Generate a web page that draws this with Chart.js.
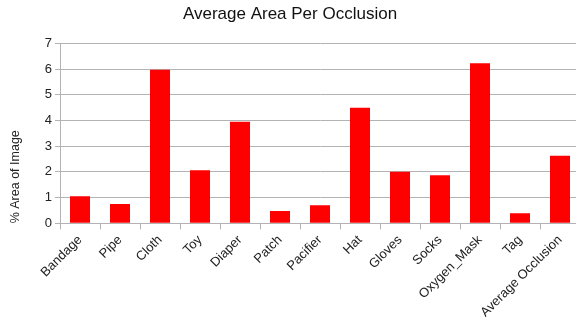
<!DOCTYPE html>
<html><head><meta charset="utf-8">
<script src="https://cdn.jsdelivr.net/npm/chart.js@4/dist/chart.umd.min.js"></script>
<style>html,body{margin:0;padding:0;overflow:hidden;background:#fff;width:576px;height:320px}
#wrap{width:580px;height:320px;position:relative}</style>
</head><body><div id="wrap"><canvas id="c"></canvas></div>
<script>
const categories = ["Bandage","Pipe","Cloth","Toy","Diaper","Patch","Pacifier","Hat","Gloves","Socks","Oxygen_Mask","Tag","Average Occlusion"];
const values = [1.05,0.75,5.97,2.06,3.95,0.48,0.70,4.50,2.01,1.87,6.23,0.39,2.63];
const yTicks = [0,1,2,3,4,5,6,7];
const titleText = "Average Area Per Occlusion";
const yTitle = "% Area of Image";

Chart.defaults.font.family = "'Liberation Sans', Arial, sans-serif";
Chart.defaults.color = "#222";
new Chart(document.getElementById('c'), {
  type: 'bar',
  data: { labels: categories, datasets: [{ data: values, backgroundColor: '#ff0000', borderColor: '#ff0000', borderWidth: 0, categoryPercentage: 1, barPercentage: 0.5 }] },
  options: {
    responsive: true, maintainAspectRatio: false, animation: false,
    layout: { padding: { left: 0, right: 0, top: 0, bottom: 0 } },
    plugins: {
      legend: { display: false }, tooltip: { enabled: false },
      title: { display: true, text: titleText, font: { size: 17, weight: 'normal' }, color: '#111', padding: { top: 4, bottom: 19 } }
    },
    scales: {
      x: {
        grid: { display: true, drawOnChartArea: false, drawTicks: true, tickLength: 6, color: '#b3b3b3', offset: true },
        border: { color: '#b3b3b3' },
        ticks: { maxRotation: 45, minRotation: 45, font: { size: 13 }, color: '#222', padding: 3, autoSkip: false },
        afterFit: s => { s.height = 96.7; }
      },
      y: {
        min: 0, max: 7,
        afterBuildTicks: s => { s.ticks = yTicks.map(v => ({ value: v })); },
        grid: { color: '#b3b3b3', tickLength: 5 },
        border: { color: '#b3b3b3' },
        ticks: { font: { size: 13 }, color: '#222', padding: 3 },
        title: { display: true, text: yTitle, align: 'start', font: { size: 12.5 }, color: '#222', padding: { top: 8.5, bottom: 0 } },
        afterFit: s => { s.width = 60; }
      }
    }
  }
});
</script></body></html>
